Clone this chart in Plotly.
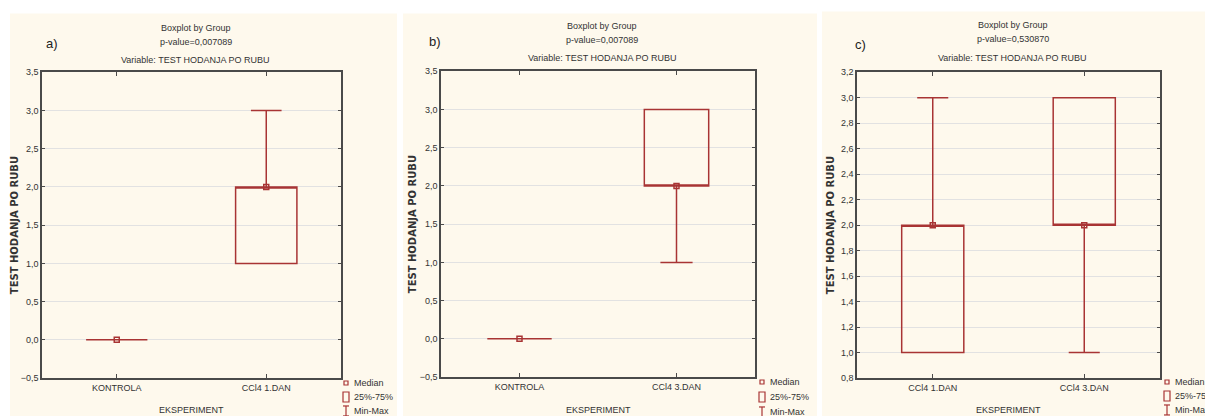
import plotly.graph_objects as go

# ---------------- data ----------------
cats_a = ["KONTROLA", "CCl4 1.DAN"]
min_a = [0, 1]
q1_a = [0, 1]
med_a = [0, 2]
q3_a = [0, 2]
max_a = [0, 3]

cats_b = ["KONTROLA", "CCl4 3.DAN"]
min_b = [0, 1]
q1_b = [0, 2]
med_b = [0, 2]
q3_b = [0, 3]
max_b = [0, 3]

cats_c = ["CCl4 1.DAN", "CCl4 3.DAN"]
min_c = [1, 1]
q1_c = [1, 2]
med_c = [2, 2]
q3_c = [2, 3]
max_c = [3, 3]

pvalues = ["0,007089", "0,007089", "0,530870"]
panel_labels = ["a)", "b)", "c)"]
yticks_ab = [-0.5, 0, 0.5, 1.0, 1.5, 2.0, 2.5, 3.0, 3.5]
yticks_c = [0.8, 1.0, 1.2, 1.4, 1.6, 1.8, 2.0, 2.2, 2.4, 2.6, 2.8, 3.0, 3.2]
legend_items = ["Median", "25%-75%", "Min-Max"]

# ---------------- style ----------------
W, H = 1205, 416
RED = "#a83434"
CREAM = "#fef9ed"
FRAME = "#4a4a4a"
TXT = "#333333"
FONT = "Liberation Sans"


def px(x):
    return x / W


def py(y):
    ys = (y - 3.6) / 0.977
    return 1 - ys / H


panels = [
    dict(cats=cats_a, mn=min_a, q1=q1_a, med=med_a, q3=q3_a, mx=max_a,
         ticks=yticks_ab, rng=[-0.5, 3.5], box=(42, 71, 341, 377),
         cream=(10, 12, 397, 430), ytitle_x=14, lab=(52, 42),
         ttl_y=(27, 41, 59), leg=(346, (382, 396, 410))),
    dict(cats=cats_b, mn=min_b, q1=q1_b, med=med_b, q3=q3_b, mx=max_b,
         ticks=yticks_ab, rng=[-0.5, 3.5], box=(441, 70, 755, 376),
         cream=(403, 12, 817, 430), ytitle_x=412, lab=(435, 40),
         ttl_y=(25, 39, 57), leg=(762, (381, 396, 411))),
    dict(cats=cats_c, mn=min_c, q1=q1_c, med=med_c, q3=q3_c, mx=max_c,
         ticks=yticks_c, rng=[0.8, 3.2], box=(857, 71, 1160, 377),
         cream=(822, 10, 1205, 430), ytitle_x=830, lab=(860, 43),
         ttl_y=(24, 38, 57), leg=(1167, (381, 395, 409))),
]

fig = go.Figure()
shapes = []
annotations = []
layout_axes = {}

for i, p in enumerate(panels):
    n = "" if i == 0 else str(i + 1)
    xa, ya = "x" + n, "y" + n
    positions = list(range(len(p["cats"])))
    fig.add_trace(go.Box(
        x=positions, q1=p["q1"], median=p["med"], q3=p["q3"],
        lowerfence=p["mn"], upperfence=p["mx"],
        width=0.41, whiskerwidth=0.5, boxpoints=False,
        line=dict(color=RED, width=1.5), fillcolor="rgba(0,0,0,0)",
        xaxis=xa, yaxis=ya, showlegend=False, hoverinfo="skip"))
    fig.add_trace(go.Scatter(
        x=positions, y=p["med"], mode="markers",
        marker=dict(symbol="square-open", size=5, color=RED,
                    line=dict(color=RED, width=1.5)),
        xaxis=xa, yaxis=ya, showlegend=False, hoverinfo="skip"))

    x0, y0, x1, y1 = p["box"]
    layout_axes["xaxis" + n] = dict(
        domain=[px(x0), px(x1)], anchor=ya, range=[-0.5, 1.5],
        tickvals=positions, ticktext=p["cats"], showgrid=False,
        zeroline=False, showline=True, mirror="ticks", linecolor=FRAME,
        linewidth=1.5, ticks="inside", ticklen=4, tickcolor=FRAME,
        tickfont=dict(family=FONT, size=9, color=TXT), fixedrange=True)
    layout_axes["yaxis" + n] = dict(
        domain=[py(y1), py(y0)], anchor=xa, range=p["rng"],
        tickvals=p["ticks"], tickformat=".1f", showgrid=True,
        gridcolor="#e2e2e2", gridwidth=1, zeroline=False, showline=True,
        mirror="ticks", linecolor=FRAME, linewidth=1.5, ticks="inside",
        ticklen=3, tickcolor=FRAME,
        tickfont=dict(family=FONT, size=9, color=TXT), fixedrange=True)

    cx0, cy0, cx1, cy1 = p["cream"]
    shapes.append(dict(type="rect", xref="paper", yref="paper",
                       x0=px(cx0), x1=px(cx1), y0=py(cy1), y1=py(cy0),
                       fillcolor=CREAM, line=dict(width=0), layer="below"))

    cx = (x0 + x1) / 2 + 4
    titles = ["Boxplot by Group", "p-value=" + pvalues[i],
              "Variable: TEST HODANJA PO RUBU"]
    for t, yy in zip(titles, p["ttl_y"]):
        annotations.append(dict(text=t, x=px(cx), y=py(yy), xref="paper",
                                yref="paper", showarrow=False,
                                xanchor="center", yanchor="middle",
                                font=dict(family=FONT, size=9, color=TXT)))
    annotations.append(dict(text=panel_labels[i], x=px(p["lab"][0]),
                            y=py(p["lab"][1]), xref="paper", yref="paper",
                            showarrow=False, xanchor="center",
                            yanchor="middle",
                            font=dict(family=FONT, size=13, color="#222")))
    annotations.append(dict(text="<b>TEST HODANJA PO RUBU</b>",
                            x=px(p["ytitle_x"]), y=py((y0 + y1) / 2),
                            xref="paper", yref="paper", showarrow=False,
                            textangle=-90, xanchor="center",
                            yanchor="middle",
                            font=dict(family="DejaVu Sans", size=10,
                                      color=TXT)))
    annotations.append(dict(text="EKSPERIMENT", x=px((x0 + x1) / 2),
                            y=py(409), xref="paper", yref="paper",
                            showarrow=False, xanchor="center",
                            yanchor="middle",
                            font=dict(family=FONT, size=9, color=TXT)))

    # legend (symbols + text)
    lx, lys = p["leg"]
    for t, yy in zip(legend_items, lys):
        annotations.append(dict(text=t, x=px(lx + 6), y=py(yy),
                                xref="paper", yref="paper", showarrow=False,
                                xanchor="left", yanchor="middle",
                                font=dict(family=FONT, size=9, color=TXT)))
    shapes.append(dict(type="rect", xref="paper", yref="paper",
                       x0=px(lx - 2), x1=px(lx + 2), y0=py(lys[0] + 2),
                       y1=py(lys[0] - 2), line=dict(color=RED, width=1.2)))
    shapes.append(dict(type="rect", xref="paper", yref="paper",
                       x0=px(lx - 3), x1=px(lx + 3), y0=py(lys[1] + 5),
                       y1=py(lys[1] - 5), line=dict(color=RED, width=1.2)))
    shapes.append(dict(type="line", xref="paper", yref="paper",
                       x0=px(lx), x1=px(lx), y0=py(lys[2] + 5),
                       y1=py(lys[2] - 5), line=dict(color=RED, width=1.2)))
    shapes.append(dict(type="line", xref="paper", yref="paper",
                       x0=px(lx - 3), x1=px(lx + 3), y0=py(lys[2] - 5),
                       y1=py(lys[2] - 5), line=dict(color=RED, width=1.2)))
    shapes.append(dict(type="line", xref="paper", yref="paper",
                       x0=px(lx - 3), x1=px(lx + 3), y0=py(lys[2] + 5),
                       y1=py(lys[2] + 5), line=dict(color=RED, width=1.2)))

fig.update_layout(
    width=W, height=H, margin=dict(l=0, r=0, t=0, b=0),
    paper_bgcolor="white", plot_bgcolor="white", separators=",.",
    showlegend=False, shapes=shapes, annotations=annotations,
    **layout_axes)

fig.write_html(
    "out.html",
    config={"displayModeBar": False},
    post_script="document.body.style.margin='0';"
                "document.body.style.overflow='hidden';")
